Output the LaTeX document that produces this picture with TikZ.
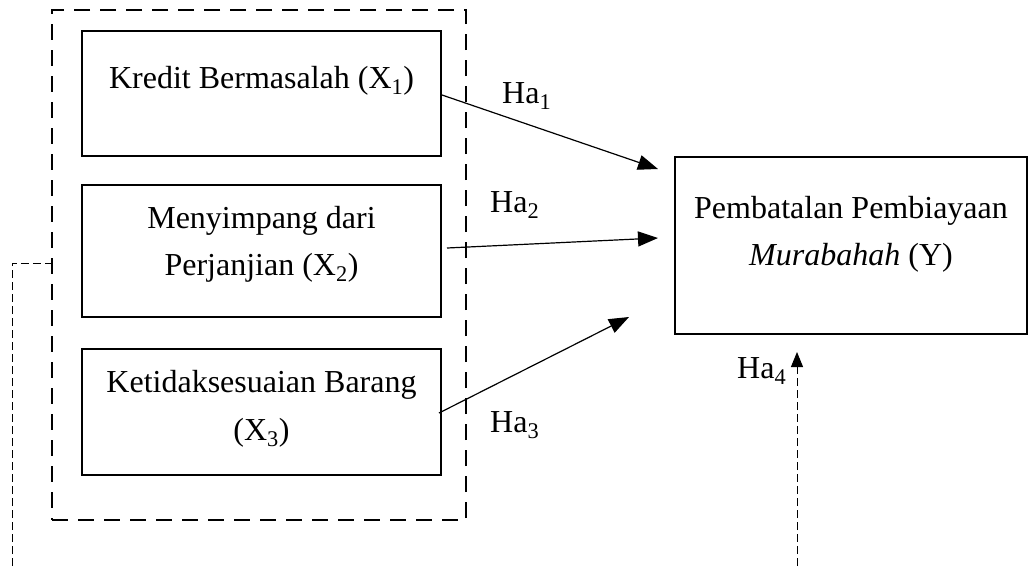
\documentclass[tikz,border=0pt]{standalone}
\usepackage{fontspec}
\setmainfont{Liberation Serif}
\usetikzlibrary{arrows.meta}
\begin{document}
\begin{tikzpicture}[x=1pt,y=-1pt,
  box/.style={draw, line width=2pt, inner sep=0pt},
  lbl/.style={font=\fontsize{32}{40}\selectfont, anchor=base, inner sep=0pt},
  hlbl/.style={font=\fontsize{32}{40}\selectfont, anchor=base west, inner sep=0pt},
  arr/.style={line width=1.2pt, -{Triangle[length=20pt,width=15pt]}},
  thindash/.style={line width=1pt, dash pattern=on 8pt off 4pt},
  thickdash/.style={line width=2.2pt, dash pattern=on 16pt off 10pt}]
\useasboundingbox (0,0) rectangle (1029,566);
% group box
\node[draw, thickdash, inner sep=0pt, minimum width=414pt, minimum height=510pt] (grp) at (259,265) {};
% independent variables
\node[box, minimum width=359pt, minimum height=125pt] (x1) at (261.5,93.5) {};
\node[lbl] (x1a) at (261.5,88) {Kredit Bermasalah (X\textsubscript{1})};
\node[box, minimum width=359pt, minimum height=132pt] (x2) at (261.5,251) {};
\node[lbl] (x2a) at (261.5,228) {Menyimpang dari};
\node[lbl] (x2b) at (261.5,275) {Perjanjian (X\textsubscript{2})};
\node[box, minimum width=359pt, minimum height=126pt] (x3) at (261.5,412) {};
\node[lbl] (x3a) at (261.5,392) {Ketidaksesuaian Barang};
\node[lbl] (x3b) at (261.5,440) {(X\textsubscript{3})};
% dependent variable
\node[box, minimum width=352pt, minimum height=177pt] (y) at (851,245.5) {};
\node[lbl] (ya) at (851,218) {Pembatalan Pembiayaan};
\node[lbl] (yb) at (851,265) {\textit{Murabahah} (Y)};
% arrow end points
\coordinate (e1) at (658,169);
\coordinate (e2) at (658,238);
\coordinate (e3) at (629,317);
\coordinate (e4) at (797,352);
\coordinate (b4) at (797,566);
\coordinate (b0) at (12,566);
% connectors
\draw[arr] ([yshift=-1.5pt]x1.east) -- (e1);
\draw[arr] ([shift={(5pt,3pt)}]x2.east) -- (e2);
\draw[arr] ([shift={(-3pt,-1pt)}]x3.east) -- (e3);
\draw[thindash, -{Triangle[length=15pt,width=12pt]}] (b4) -- (e4);
\draw[thindash] (b0) |- ([yshift=2pt]grp.west);
% labels
\node[hlbl] (h1) at (502,103) {Ha\textsubscript{1}};
\node[hlbl] (h2) at (490,212) {Ha\textsubscript{2}};
\node[hlbl] (h3) at (490,432) {Ha\textsubscript{3}};
\node[hlbl] (h4) at (737,378) {Ha\textsubscript{4}};
\end{tikzpicture}
\end{document}
